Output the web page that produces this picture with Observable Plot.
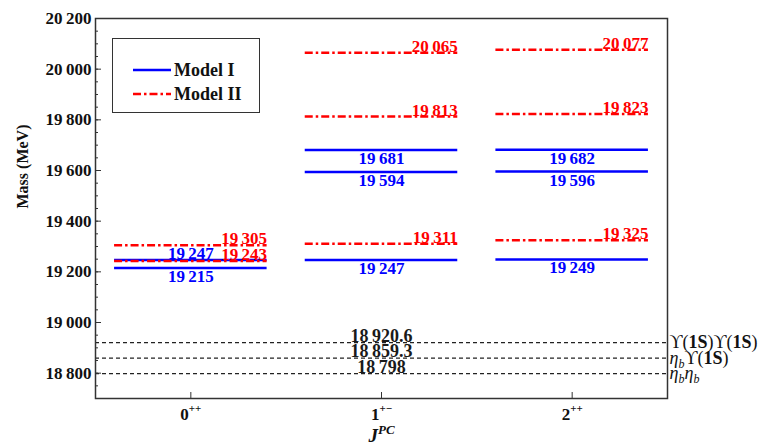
<!DOCTYPE html>
<html>
<head>
<meta charset="utf-8">
<script src="https://cdn.jsdelivr.net/npm/d3@7"></script>
<script src="https://cdn.jsdelivr.net/npm/@observablehq/plot@0.6"></script>
<style>
  body { margin: 0; background: #fff; }
  #wrap { position: relative; width: 764px; height: 447px; font-family: "Liberation Serif", "Times New Roman", serif; }
  #legend { position: absolute; left: 112px; top: 38px; width: 148px; height: 75px; box-sizing: border-box;
            border: 1.3px solid #333; background: #fff; }
</style>
</head>
<body>
<div id="wrap"><div id="legend"></div></div>
<script>
// J^PC channels along the x axis
const channels = ["0^{++}", "1^{+−}", "2^{++}"];

// Predicted masses (MeV) per channel
const modelI  = [[19247, 19215], [19681, 19594, 19247], [19682, 19596, 19249]];
const modelII = [[19305, 19243], [20065, 19813, 19311], [20077, 19823, 19325]];

// Two-meson thresholds
const thresholdMasses = [18920.6, 18859.3, 18798];
const thresholdNames  = ["ϒ(*{1S})ϒ(*{1S})", "η_{b}ϒ(*{1S})", "η_{b}η_{b}"];

const yTicks = [18800, 19000, 19200, 19400, 19600, 19800, 20000, 20200];
const seriesNames = ["Model I", "Model II"];

const BLUE = "#0000ff", RED = "#ff0000", INK = "#111";
const DASHDOT = "8,3,2.5,3";
const HALF = 0.4;

const fmt = d3.formatLocale({decimal: ".", thousands: "\u2009", grouping: [3], currency: ["", ""]}).format(",");

const levelsI = [], levelsII = [];
channels.forEach((c, i) => {
  modelI[i].forEach(m => {
    // put a label above its line when another level sits just below it
    const crowded = modelI[i].some(o => o < m && m - o < 40);
    levelsI.push({i, mass: m, above: crowded});
  });
  modelII[i].forEach(m => levelsII.push({i, mass: m}));
});
const thresholds = thresholdMasses.map((m, k) => ({mass: m, name: thresholdNames[k]}));
const mid = Math.floor(channels.length / 2);

const bold = {fontWeight: "bold"};

const chart = Plot.plot({
  width: 764,
  height: 447,
  marginLeft: 95,
  marginRight: 97,
  marginTop: 18,
  marginBottom: 49,
  style: {fontFamily: "'Liberation Serif', 'Times New Roman', serif", background: "transparent", color: INK},
  x: {domain: [-0.5, channels.length - 0.5], axis: null},
  y: {domain: [18700, 20200], axis: null},
  marks: [
    // thresholds
    Plot.ruleY(thresholds, {y: "mass", stroke: "#222", strokeWidth: 1.1, strokeDasharray: "4,3"}),
    Plot.text(thresholds, {x: () => mid, y: "mass", text: d => fmt(d.mass), lineAnchor: "bottom", dy: -1, fontSize: 18, fill: "#1a1a1a", ...bold}),
    Plot.text(thresholds, {y: "mass", text: "name", frameAnchor: "right", textAnchor: "start", dx: 2, fontSize: 18, fill: INK}),

    // Model I levels
    Plot.ruleY(levelsI, {x1: d => d.i - HALF, x2: d => d.i + HALF, y: "mass", stroke: BLUE, strokeWidth: 2.5}),
    // Model II levels
    Plot.ruleY(levelsII, {x1: d => d.i - HALF, x2: d => d.i + HALF, y: "mass", stroke: RED, strokeWidth: 2.5, strokeDasharray: DASHDOT}),

    // labels
    Plot.text(levelsI.filter(d => !d.above), {x: "i", y: "mass", text: d => fmt(d.mass), lineAnchor: "top", dy: 2, fill: BLUE, fontSize: 17, ...bold}),
    Plot.text(levelsI.filter(d => d.above), {x: "i", y: "mass", text: d => fmt(d.mass), lineAnchor: "bottom", dy: -1, fill: BLUE, fontSize: 17, ...bold}),
    Plot.text(levelsII, {x: d => d.i + HALF, y: "mass", text: d => fmt(d.mass), textAnchor: "end", lineAnchor: "bottom", dy: -1, fill: RED, fontSize: 17, ...bold}),

    // axes
    Plot.frame({stroke: "#333", strokeWidth: 1.5}),
    Plot.axisY({ticks: d3.range(18750, 20200, 50), tickSize: -3, text: null, label: null, stroke: "#333"}),
    Plot.axisY({ticks: yTicks, tickSize: -6, tickPadding: 10, tickFormat: fmt, label: null, fontSize: 17, fontWeight: "bold", fill: INK, stroke: "#333"}),
    Plot.axisX({ticks: channels.map((c, i) => i), tickSize: -6, text: null, label: null, stroke: "#333"}),
    Plot.text(channels, {x: (c, i) => i, frameAnchor: "bottom", text: d => d, lineAnchor: "top", dy: 9, fontSize: 17, fontWeight: "bold", fill: INK}),
    Plot.text(["Mass (MeV)"], {frameAnchor: "left", rotate: -90, dx: -73, text: d => d, fontSize: 16, fontWeight: "bold", fill: INK}),
    Plot.text(["J^{PC}"], {frameAnchor: "bottom", text: d => d, lineAnchor: "top", dy: 30, fontSize: 19, fontWeight: "bold", fontStyle: "italic", fill: INK})
  ]
});

document.getElementById("wrap").appendChild(chart);
chart.style.position = "absolute";
chart.style.left = "0";
chart.style.top = "0";
d3.select("#legend").raise();

// turn ^{..} / _{..} / *{..} markup into tspans
function richText(root) {
  d3.select(root).selectAll("text").each(function () {
    const s = this.textContent;
    if (!/[_^*]\{/.test(s)) return;
    const size = parseFloat(getComputedStyle(this).fontSize) || 16;
    const re = /([_^*])\{([^}]*)\}/g;
    const parts = [];
    let last = 0, m;
    while ((m = re.exec(s))) {
      if (m.index > last) parts.push(["", s.slice(last, m.index)]);
      parts.push([m[1], m[2]]);
      last = re.lastIndex;
    }
    if (last < s.length) parts.push(["", s.slice(last)]);
    const t = d3.select(this).text(null);
    let shift = 0;
    for (const [k, str] of parts) {
      const target = k === "^" ? -0.42 * size : k === "_" ? 0.22 * size : 0;
      const sp = t.append("tspan").text(str);
      if (target !== shift) sp.attr("dy", target - shift);
      shift = target;
      if (k === "^" || k === "_") sp.attr("font-size", Math.round(size * 0.66));
      if (k === "*") sp.attr("font-weight", "bold");
      if (k === "_") sp.attr("font-style", "italic");
    }
    d3.select(this).selectAll("tspan").filter(function () { return /η/.test(this.textContent); })
      .attr("font-style", "italic");
  });
}
richText(chart);

// legend
const leg = d3.select("#legend").append("svg").attr("width", 146).attr("height", 73)
  .style("font-family", "'Liberation Serif', 'Times New Roman', serif");
const legItems = seriesNames.map((name, k) => ({name, color: k ? RED : BLUE, dash: k ? DASHDOT : null}));
legItems.forEach((d, k) => {
  const y = 31 + k * 24;
  leg.append("line").attr("x1", 20).attr("x2", 58).attr("y1", y).attr("y2", y)
    .attr("stroke", d.color).attr("stroke-width", 2.5).attr("stroke-dasharray", d.dash);
  leg.append("text").attr("x", 61).attr("y", y).attr("dy", "0.34em").attr("font-size", 18)
    .attr("font-weight", "bold").attr("fill", INK).text(d.name);
});
</script>
</body>
</html>
